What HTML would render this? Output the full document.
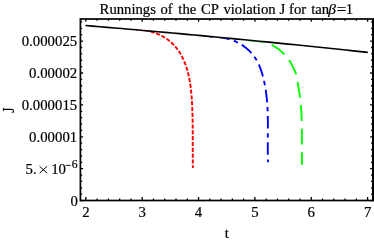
<!DOCTYPE html>
<html><head><meta charset="utf-8"><title>plot</title>
<style>
html,body{margin:0;padding:0;background:#fff;}
body{width:374px;height:241px;overflow:hidden;}
svg{display:block;filter:blur(0.35px);}
text{font-family:"Liberation Serif",serif;font-size:14.8px;fill:#000;stroke:#000;stroke-width:0.2px;}
</style></head><body>
<svg width="374" height="241" viewBox="0 0 374 241">
<rect width="374" height="241" fill="#fff"/>
<clipPath id="c"><path d="M80,25.62 L90.1,26.45 L100.21,27.29 L110.31,28.14 L120.41,29 L130.52,29.87 L140.62,30.75 L150.72,31.63 L160.83,32.53 L170.93,33.44 L181.03,34.35 L191.14,35.28 L201.24,36.21 L211.34,37.15 L221.45,38.11 L231.55,39.07 L241.66,40.04 L251.76,41.02 L261.86,42.01 L271.97,43.01 L282.07,44.02 L292.17,45.03 L302.28,46.06 L312.38,47.09 L322.48,48.14 L332.59,49.19 L342.69,50.26 L352.79,51.33 L362.9,52.41 L373,53.5 L373,201 L80,201 Z"/></clipPath>
<g clip-path="url(#c)">
<path d="M136,29.94 L137.4,29.93 L138.81,29.97 L140.23,30.03 L141.64,30.14 L143.06,30.27 L144.47,30.45 L145.88,30.66 L147.29,30.9 L148.69,31.18 L150.08,31.5 L151.47,31.86 L152.84,32.25 L154.2,32.68 L155.55,33.14 L156.89,33.65 L158.2,34.19 L159.5,34.76 L160.79,35.38 L162.05,36.03 L163.29,36.72 L164.51,37.45 L165.7,38.21 L166.88,39.01 L168.02,39.84 L169.14,40.7 L170.23,41.6 L171.29,42.54 L172.32,43.5 L173.32,44.5 L174.29,45.53 L175.23,46.58 L176.14,47.66 L177.02,48.77 L177.86,49.9 L178.68,51.05 L179.47,52.23 L180.22,53.42 L180.94,54.64 L181.63,55.87 L182.29,57.12 L182.92,58.38 L183.52,59.67 L184.1,60.96 L184.64,62.27 L185.16,63.59 L185.65,64.92 L186.12,66.27 L186.56,67.62 L186.98,68.98 L187.38,70.36 L187.76,71.74 L188.11,73.12 L188.44,74.51 L188.76,75.91 L189.05,77.31 L189.33,78.71 L189.59,80.12 L189.83,81.52 L190.06,82.93 L190.27,84.34 L190.47,85.75 L190.65,87.16 L190.82,88.56 L190.98,89.97 L191.13,91.38 L191.26,92.8 L191.39,94.21 L191.51,95.62 L191.62,97.03 L191.72,98.44 L191.81,99.86 L191.9,101.27 L191.98,102.69 L192.06,104.1 L192.13,105.52 L192.2,106.93 L192.26,108.35 L192.32,109.77 L192.37,111.18 L192.42,112.6 L192.46,114.02 L192.5,115.44 L192.54,116.86 L192.57,118.27 L192.6,119.69 L192.62,121.11 L192.65,122.53 L192.67,123.95 L192.68,125.37 L192.7,126.79 L192.71,128.22 L192.72,129.64 L192.73,131.06 L192.74,132.48 L192.74,133.9 L192.74,135.32 L192.75,136.74 L192.75,138.16 L192.75,139.59 L192.75,141.01 L192.75,142.43 L192.75,143.85 L192.75,145.27 L192.75,146.69 L192.75,148.12 L192.75,149.54 L192.75,150.96 L192.76,152.38 L192.76,153.8 L192.77,155.22 L192.77,156.64 L192.78,158.06 L192.79,159.48 L192.81,160.9 L192.82,162.32 L192.84,163.74 L192.86,165.16 L192.88,166.58 L192.91,168" fill="none" stroke="#ff0000" stroke-width="1.9" stroke-dasharray="4.13 1.7" stroke-dashoffset="2.82"/>
<path d="M210.02,36.68 L211.32,36.68 L212.63,36.7 L213.95,36.74 L215.28,36.82 L216.6,36.91 L217.93,37.03 L219.25,37.18 L220.58,37.35 L221.9,37.55 L223.22,37.78 L224.54,38.04 L225.85,38.32 L227.16,38.64 L228.45,38.98 L229.74,39.36 L231.02,39.77 L232.28,40.2 L233.53,40.68 L234.77,41.18 L235.99,41.72 L237.2,42.29 L238.39,42.9 L239.56,43.53 L240.71,44.2 L241.84,44.91 L242.95,45.64 L244.04,46.41 L245.11,47.2 L246.15,48.02 L247.16,48.88 L248.15,49.76 L249.12,50.67 L250.05,51.6 L250.96,52.56 L251.84,53.55 L252.69,54.57 L253.51,55.6 L254.29,56.67 L255.04,57.75 L255.76,58.86 L256.44,59.99 L257.09,61.14 L257.71,62.31 L258.3,63.5 L258.86,64.71 L259.39,65.93 L259.9,67.16 L260.38,68.41 L260.83,69.66 L261.27,70.93 L261.68,72.2 L262.08,73.48 L262.45,74.77 L262.81,76.06 L263.15,77.35 L263.48,78.65 L263.79,79.95 L264.09,81.25 L264.37,82.55 L264.64,83.85 L264.89,85.16 L265.13,86.47 L265.36,87.78 L265.58,89.09 L265.78,90.4 L265.97,91.72 L266.15,93.03 L266.32,94.35 L266.48,95.67 L266.63,96.99 L266.76,98.31 L266.89,99.64 L267.01,100.96 L267.12,102.29 L267.21,103.61 L267.31,104.94 L267.39,106.27 L267.46,107.6 L267.53,108.93 L267.59,110.26 L267.65,111.59 L267.69,112.93 L267.73,114.26 L267.77,115.59 L267.8,116.93 L267.82,118.26 L267.84,119.6 L267.86,120.93 L267.87,122.27 L267.88,123.61 L267.88,124.94 L267.88,126.28 L267.88,127.62 L267.88,128.95 L267.87,130.29 L267.87,131.63 L267.86,132.96 L267.85,134.3 L267.84,135.63 L267.83,136.97 L267.82,138.3 L267.81,139.64 L267.8,140.97 L267.79,142.3 L267.79,143.63 L267.78,144.97 L267.78,146.3 L267.78,147.63 L267.79,148.96 L267.79,150.28 L267.8,151.61 L267.81,152.94 L267.83,154.26 L267.86,155.58 L267.88,156.91 L267.92,158.23 L267.95,159.55 L268,160.86 L268.05,162.18" fill="none" stroke="#0000ff" stroke-width="1.9" stroke-dasharray="12.66 4.6 4.4 4.6" stroke-dashoffset="19.2"/>
<path d="M246,39.9 L247.3,40.05 L248.61,40.19 L249.92,40.32 L251.23,40.45 L252.54,40.57 L253.85,40.69 L255.17,40.81 L256.48,40.93 L257.79,41.05 L259.1,41.18 L260.4,41.32 L261.69,41.49 L262.98,41.7 L264.25,41.96 L265.51,42.28 L266.75,42.66 L267.98,43.1 L269.19,43.59 L270.38,44.13 L271.56,44.72 L272.72,45.35 L273.86,46.01 L274.99,46.72 L276.1,47.45 L277.18,48.21 L278.25,48.99 L279.3,49.8 L280.33,50.63 L281.34,51.48 L282.32,52.35 L283.27,53.25 L284.2,54.17 L285.1,55.12 L285.98,56.09 L286.82,57.09 L287.62,58.12 L288.4,59.17 L289.14,60.26 L289.84,61.37 L290.51,62.5 L291.16,63.66 L291.79,64.82 L292.4,66 L293.01,67.19 L293.6,68.37 L294.18,69.56 L294.73,70.76 L295.25,71.96 L295.71,73.18 L296.12,74.42 L296.47,75.68 L296.76,76.95 L297,78.24 L297.22,79.53 L297.42,80.83 L297.62,82.13 L297.83,83.43 L298.04,84.74 L298.26,86.04 L298.47,87.34 L298.69,88.63 L298.91,89.93 L299.12,91.23 L299.33,92.53 L299.54,93.83 L299.73,95.13 L299.92,96.43 L300.1,97.74 L300.27,99.04 L300.42,100.34 L300.56,101.65 L300.69,102.95 L300.82,104.26 L300.93,105.57 L301.03,106.88 L301.13,108.18 L301.21,109.49 L301.29,110.8 L301.36,112.11 L301.42,113.43 L301.48,114.74 L301.53,116.05 L301.58,117.36 L301.62,118.68 L301.66,119.99 L301.69,121.3 L301.72,122.62 L301.75,123.93 L301.77,125.25 L301.79,126.56 L301.81,127.88 L301.83,129.2 L301.84,130.51 L301.85,131.83 L301.86,133.14 L301.87,134.46 L301.88,135.78 L301.88,137.09 L301.89,138.41 L301.89,139.73 L301.89,141.04 L301.89,142.36 L301.89,143.68 L301.89,144.99 L301.89,146.31 L301.9,147.62 L301.9,148.94 L301.9,150.25 L301.9,151.57 L301.9,152.88 L301.91,154.2 L301.91,155.51 L301.92,156.83 L301.93,158.14 L301.94,159.45 L301.95,160.77 L301.96,162.08 L301.98,163.39 L302,164.7" fill="none" stroke="#00ff00" stroke-width="1.9" stroke-dasharray="15.9 7.6" stroke-dashoffset="20.6"/>
</g>
<path d="M85.5,25.52 L92.74,26.12 L99.98,26.72 L107.22,27.33 L114.45,27.94 L121.69,28.56 L128.93,29.18 L136.17,29.81 L143.41,30.44 L150.65,31.08 L157.88,31.72 L165.12,32.37 L172.36,33.02 L179.6,33.67 L186.84,34.33 L194.08,35 L201.32,35.67 L208.55,36.34 L215.79,37.02 L223.03,37.71 L230.27,38.4 L237.51,39.09 L244.75,39.79 L251.98,40.49 L259.22,41.2 L266.46,41.91 L273.7,42.63 L280.94,43.35 L288.18,44.08 L295.42,44.81 L302.65,45.55 L309.89,46.29 L317.13,47.03 L324.37,47.79 L331.61,48.54 L338.85,49.3 L346.08,50.07 L353.32,50.84 L360.56,51.61 L367.8,52.39" fill="none" stroke="#000" stroke-width="1.6"/>
<rect x="80.4" y="19" width="292.45" height="181.5" fill="none" stroke="#000" stroke-width="1.7"/>
<path d="M373.4,18.15 V201.35" stroke="#000" stroke-width="1.2" fill="none"/>
<path d="M85.85,200.5 v-3.5 M85.85,19 v2.7 M97.12,200.5 v-2.1 M97.12,19 v1.8 M108.39,200.5 v-2.1 M108.39,19 v1.8 M119.66,200.5 v-2.1 M119.66,19 v1.8 M130.93,200.5 v-2.1 M130.93,19 v1.8 M142.2,200.5 v-3.5 M142.2,19 v2.7 M153.47,200.5 v-2.1 M153.47,19 v1.8 M164.74,200.5 v-2.1 M164.74,19 v1.8 M176.01,200.5 v-2.1 M176.01,19 v1.8 M187.28,200.5 v-2.1 M187.28,19 v1.8 M198.55,200.5 v-3.5 M198.55,19 v2.7 M209.82,200.5 v-2.1 M209.82,19 v1.8 M221.09,200.5 v-2.1 M221.09,19 v1.8 M232.36,200.5 v-2.1 M232.36,19 v1.8 M243.63,200.5 v-2.1 M243.63,19 v1.8 M254.9,200.5 v-3.5 M254.9,19 v2.7 M266.17,200.5 v-2.1 M266.17,19 v1.8 M277.44,200.5 v-2.1 M277.44,19 v1.8 M288.71,200.5 v-2.1 M288.71,19 v1.8 M299.98,200.5 v-2.1 M299.98,19 v1.8 M311.25,200.5 v-3.5 M311.25,19 v2.7 M322.52,200.5 v-2.1 M322.52,19 v1.8 M333.79,200.5 v-2.1 M333.79,19 v1.8 M345.06,200.5 v-2.1 M345.06,19 v1.8 M356.33,200.5 v-2.1 M356.33,19 v1.8 M367.6,200.5 v-3.5 M367.6,19 v2.7 M80.4,200.6 h2.7 M372.85,200.6 h-2.7 M80.4,194.22 h1.8 M372.85,194.22 h-1.8 M80.4,187.84 h1.8 M372.85,187.84 h-1.8 M80.4,181.46 h1.8 M372.85,181.46 h-1.8 M80.4,175.08 h1.8 M372.85,175.08 h-1.8 M80.4,168.7 h2.7 M372.85,168.7 h-2.7 M80.4,162.32 h1.8 M372.85,162.32 h-1.8 M80.4,155.94 h1.8 M372.85,155.94 h-1.8 M80.4,149.56 h1.8 M372.85,149.56 h-1.8 M80.4,143.18 h1.8 M372.85,143.18 h-1.8 M80.4,136.8 h2.7 M372.85,136.8 h-2.7 M80.4,130.42 h1.8 M372.85,130.42 h-1.8 M80.4,124.04 h1.8 M372.85,124.04 h-1.8 M80.4,117.66 h1.8 M372.85,117.66 h-1.8 M80.4,111.28 h1.8 M372.85,111.28 h-1.8 M80.4,104.9 h2.7 M372.85,104.9 h-2.7 M80.4,98.52 h1.8 M372.85,98.52 h-1.8 M80.4,92.14 h1.8 M372.85,92.14 h-1.8 M80.4,85.76 h1.8 M372.85,85.76 h-1.8 M80.4,79.38 h1.8 M372.85,79.38 h-1.8 M80.4,73 h2.7 M372.85,73 h-2.7 M80.4,66.62 h1.8 M372.85,66.62 h-1.8 M80.4,60.24 h1.8 M372.85,60.24 h-1.8 M80.4,53.86 h1.8 M372.85,53.86 h-1.8 M80.4,47.48 h1.8 M372.85,47.48 h-1.8 M80.4,41.1 h2.7 M372.85,41.1 h-2.7 M80.4,34.72 h1.8 M372.85,34.72 h-1.8 M80.4,28.34 h1.8 M372.85,28.34 h-1.8 M80.4,21.96 h1.8 M372.85,21.96 h-1.8" fill="none" stroke="#000" stroke-width="1.3"/>
<text y="14" style="font-size:14.7px"><tspan x="99.6">Runnings</tspan><tspan x="160.5">of</tspan><tspan x="178.3">the</tspan><tspan x="201">CP</tspan><tspan x="223.4">violation</tspan><tspan x="279.5">J</tspan><tspan x="289">for</tspan><tspan x="311.2">tan</tspan><tspan x="328.2" font-style="italic" style="font-size:15.5px">β</tspan><tspan x="336.8" dy="0.8" style="font-size:17px">=</tspan><tspan x="345.8" dy="-0.8">1</tspan></text>
<text x="85.85" y="216.5" text-anchor="middle">2</text>
<text x="142.2" y="216.5" text-anchor="middle">3</text>
<text x="198.55" y="216.5" text-anchor="middle">4</text>
<text x="254.9" y="216.5" text-anchor="middle">5</text>
<text x="311.25" y="216.5" text-anchor="middle">6</text>
<text x="367.6" y="216.5" text-anchor="middle">7</text>
<text x="77.2" y="45.9" text-anchor="end">0.000025</text>
<text x="77.2" y="77.8" text-anchor="end">0.00002</text>
<text x="77.2" y="109.7" text-anchor="end">0.000015</text>
<text x="77.2" y="141.6" text-anchor="end">0.00001</text>
<text x="77.9" y="205.9" text-anchor="end">0</text>
<text x="25.6" y="173.5">5.</text>
<path d="M39.6,173.2 l7.5,-6.9 M39.6,166.3 l7.5,6.9" stroke="#000" stroke-width="1" fill="none"/>
<text x="51.2" y="173.5">10</text>
<text x="77.6" y="168" style="font-size:11.6px" text-anchor="end">6</text>
<path d="M65.7,165.4 h5" stroke="#000" stroke-width="0.9" fill="none"/>
<text x="226.9" y="237.8" text-anchor="middle">t</text>
<text transform="translate(14.4,110.2) rotate(-90) scale(0.92,1.115)" text-anchor="middle">J</text>
</svg>
</body></html>
